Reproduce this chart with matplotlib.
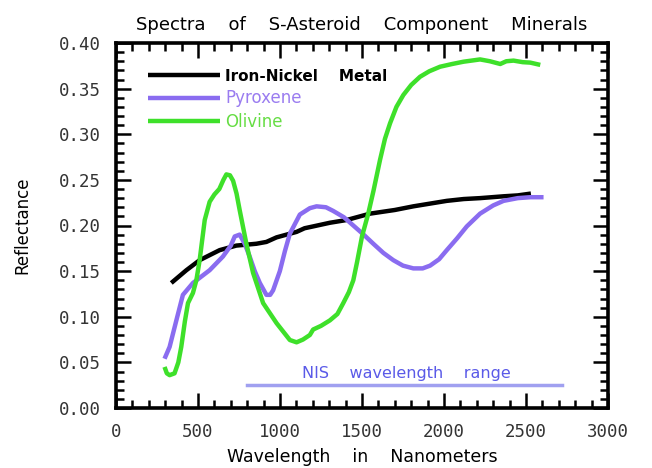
import matplotlib
matplotlib.use("Agg")
import matplotlib.pyplot as plt
from matplotlib.ticker import MultipleLocator, FormatStrFormatter

# ---- data ----
metal_nm = [337, 429, 510, 632, 734, 856, 917, 979, 1101, 1150, 1202, 1304, 1406, 1549, 1700,
            1813, 1915, 2017, 2120, 2220, 2363, 2450, 2530]
metal_r = [0.137, 0.151, 0.162, 0.173, 0.178, 0.180, 0.182, 0.187, 0.193, 0.197, 0.199, 0.203,
           0.206, 0.213, 0.217, 0.221, 0.224, 0.227, 0.229, 0.230, 0.232, 0.233, 0.235]

pyro_nm = [296, 327, 368, 408, 469, 571, 652, 700, 724, 754, 785, 815, 846, 877, 917, 940,
           958, 999, 1030, 1060, 1121, 1182, 1223, 1280, 1324, 1390, 1447, 1510, 1569, 1630,
           1691, 1750, 1813, 1870, 1915, 1970, 2017, 2080, 2139, 2220, 2300, 2363, 2450,
           2526, 2607]
pyro_r = [0.054, 0.067, 0.096, 0.124, 0.137, 0.151, 0.166, 0.178, 0.188, 0.190, 0.180, 0.166,
          0.150, 0.137, 0.124, 0.124, 0.129, 0.150, 0.172, 0.191, 0.212, 0.219, 0.221, 0.220,
          0.216, 0.209, 0.200, 0.190, 0.180, 0.170, 0.162, 0.156, 0.153, 0.153, 0.156, 0.163,
          0.173, 0.186, 0.199, 0.213, 0.222, 0.227, 0.230, 0.231, 0.231]

oliv_nm = [296, 310, 327, 357, 380, 398, 420, 439, 469, 490, 510, 541, 571, 600, 630, 655,
           673, 695, 714, 735, 754, 795, 836, 897, 979, 1060, 1101, 1140, 1182, 1202, 1250,
           1304, 1350, 1386, 1420, 1447, 1470, 1500, 1538, 1570, 1610, 1640, 1671, 1710,
           1752, 1800, 1854, 1910, 1976, 2050, 2119, 2220, 2280, 2343, 2380, 2424, 2480,
           2526, 2587]
oliv_r = [0.045, 0.038, 0.036, 0.038, 0.050, 0.067, 0.095, 0.115, 0.126, 0.140, 0.162, 0.206,
          0.226, 0.234, 0.240, 0.250, 0.256, 0.255, 0.249, 0.235, 0.217, 0.180, 0.148, 0.115,
          0.093, 0.0745, 0.072, 0.075, 0.080, 0.086, 0.090, 0.096, 0.103, 0.115, 0.127, 0.140,
          0.160, 0.188, 0.213, 0.238, 0.272, 0.295, 0.312, 0.330, 0.343, 0.354, 0.363, 0.369,
          0.374, 0.377, 0.3795, 0.382, 0.380, 0.377, 0.380, 0.3807, 0.379, 0.3785, 0.376]

nis_nm = [800, 2720]
nis_level = [0.025, 0.025]
nis_label_pos = (1770, 0.038)

labels = ["Iron-Nickel    Metal", "Pyroxene", "Olivine"]
title = "Spectra    of    S-Asteroid    Component    Minerals"
xlabel = "Wavelength    in    Nanometers"
ylabel = "Reflectance"
nis_text = "NIS    wavelength    range"

# ---- style ----
c_metal = "#000000"
c_pyro = "#8a6cf0"
c_oliv = "#3ee02a"
c_nis_line = "#a0a0f0"
c_nis_text = "#5a5ae8"

fig = plt.figure(figsize=(6.52, 4.68), dpi=100)
ax = fig.add_axes([116 / 652, 1 - 408 / 468, (608 - 116) / 652, (408 - 43) / 468])

ax.plot(metal_nm, metal_r, color=c_metal, lw=3.2, label=labels[0], solid_capstyle="butt")
ax.plot(pyro_nm, pyro_r, color=c_pyro, lw=3.2, label=labels[1], solid_capstyle="butt")
ax.plot(oliv_nm, oliv_r, color=c_oliv, lw=3.2, label=labels[2], solid_capstyle="butt")

ax.plot(nis_nm, nis_level, color=c_nis_line, lw=2.5)
ax.text(nis_label_pos[0], nis_label_pos[1], nis_text, color=c_nis_text, fontsize=11.5,
        ha="center", va="center")

ax.set_xlim(0, 3000)
ax.set_ylim(0, 0.40)
ax.xaxis.set_major_locator(MultipleLocator(500))
ax.xaxis.set_minor_locator(MultipleLocator(100))
ax.yaxis.set_major_locator(MultipleLocator(0.05))
ax.yaxis.set_minor_locator(MultipleLocator(0.01))
ax.yaxis.set_major_formatter(FormatStrFormatter("%.2f"))

ax.tick_params(which="both", direction="in", top=True, right=True, colors="black")
ax.tick_params(which="major", length=11, width=1.8, pad=11)
ax.tick_params(which="minor", length=6, width=1.8)
for lab in ax.get_xticklabels() + ax.get_yticklabels():
    lab.set_fontfamily("DejaVu Sans Mono")
    lab.set_fontsize(12.5)
    lab.set_color("#333333")
for s in ax.spines.values():
    s.set_linewidth(2.6)

ax.set_title(title, fontsize=13, pad=9)
ax.set_xlabel(xlabel, fontsize=12.5, labelpad=5)
ax.set_ylabel(ylabel, fontsize=12, labelpad=20)

leg = ax.legend(loc="upper left", bbox_to_anchor=(0.065, 0.93), frameon=False,
                borderaxespad=0, borderpad=0, handlelength=4.3, handletextpad=0.35,
                labelspacing=0.35, fontsize=12)
for t, c in zip(leg.get_texts(), [c_metal, "#9a7cf0", "#66dd44"]):
    t.set_color(c)
leg.get_texts()[0].set_fontweight("bold")
leg.get_texts()[0].set_fontsize(11)

fig.savefig("out.png", dpi=100)
